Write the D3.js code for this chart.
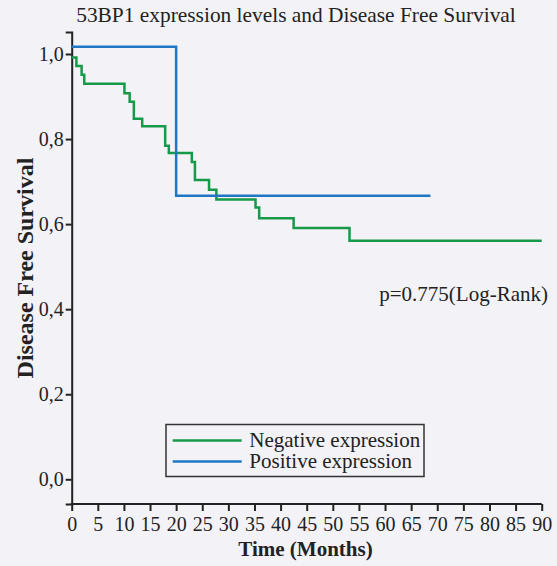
<!DOCTYPE html>
<html>
<head>
<meta charset="utf-8">
<script src="https://cdn.jsdelivr.net/npm/d3@7"></script>
<style>
  body { margin: 0; background: #f3f2f7; }
  svg { display: block; font-family: "Liberation Serif", "Times New Roman", serif; }
  .axis path, .axis line { stroke: #222; stroke-width: 2; }
  .axis text { font-size: 20px; fill: #222; font-family: "Liberation Serif", serif; }
</style>
</head>
<body>
<div id="chart"></div>
<script>
// Kaplan-Meier steps
var negTimes = [0, 0.9, 1.9, 2.4, 10.1, 11.1, 11.9, 13.5, 17.9, 18.6, 23.0, 23.6, 26.3, 27.7, 35.2, 35.9, 42.5, 53.2, 90];
var negSurv = [0.992, 0.972, 0.951, 0.930, 0.908, 0.888, 0.848, 0.830, 0.784, 0.767, 0.746, 0.704, 0.681, 0.658, 0.639, 0.614, 0.591, 0.561, 0.561];

var posTimes = [0, 20, 68.7];
var posSurv = [1.017, 0.667, 0.667];

var xTicks = d3.range(0, 91, 5);
var yTicks = [0, 0.2, 0.4, 0.6, 0.8, 1.0];
var seriesNames = ["Negative expression", "Positive expression"];
var colors = ["#17994a", "#1f77c4"];

var svgWidth = 557;
var svgHeight = 566;

var svg = d3.select("#chart")
    .append("svg")
    .attr("width", svgWidth)
    .attr("height", svgHeight);

var xScale = d3.scaleLinear()
    .domain([0, 90])
    .range([71.7, 541.7]);

// 1,0 sits at y=54 and 0,0 at y=479.3; the axis line runs a bit past both
var yScale = d3.scaleLinear()
    .domain([0, 1])
    .range([479.3, 54]);

var yAxisScale = yScale.copy().domain([yScale.invert(504), yScale.invert(32)]).range([504, 32]);

var bottomAxis = d3.axisBottom(xScale)
    .tickValues(xTicks)
    .tickSizeOuter(0)
    .tickSize(7)
    .tickPadding(6)
    .tickFormat(d3.format("d"));

var leftAxis = d3.axisLeft(yAxisScale)
    .tickValues(yTicks)
    .tickSizeOuter(0)
    .tickSize(6)
    .tickPadding(2)
    .tickFormat(d => d3.format(".1f")(d).replace(".", ","));

svg.append("g")
    .attr("class", "axis")
    .attr("transform", "translate(0, 504)")
    .call(bottomAxis)
    .call(g => g.select(".domain").attr("d", "M70.7,0H541.7"));

svg.append("g")
    .attr("class", "axis")
    .attr("transform", "translate(71.7, 0)")
    .call(leftAxis);

// survival curves
var line = d3.line()
    .x(d => xScale(d[0]))
    .y(d => yScale(d[1]))
    .curve(d3.curveStepAfter);

var negData = negTimes.map((t, i) => [t, negSurv[i]]);
var posData = posTimes.map((t, i) => [t, posSurv[i]]);

[negData, posData].forEach(function (data, i) {
    svg.append("path")
        .datum(data)
        .attr("fill", "none")
        .attr("stroke", colors[i])
        .attr("stroke-width", 2.5)
        .attr("d", line);
});

// title and axis labels
svg.append("text")
    .attr("x", 296)
    .attr("y", 22)
    .attr("text-anchor", "middle")
    .style("font-size", "21.4px")
    .attr("fill", "#222")
    .text("53BP1 expression levels and Disease Free Survival");

svg.append("text")
    .attr("x", 305.5)
    .attr("y", 556)
    .attr("text-anchor", "middle")
    .style("font-size", "21px")
    .style("font-weight", "bold")
    .attr("fill", "#222")
    .text("Time (Months)");

svg.append("text")
    .attr("transform", "translate(33, 268) rotate(-90)")
    .attr("text-anchor", "middle")
    .style("font-size", "24px")
    .style("font-weight", "bold")
    .attr("fill", "#222")
    .text("Disease Free Survival");

svg.append("text")
    .attr("x", 548)
    .attr("y", 301)
    .attr("text-anchor", "end")
    .style("font-size", "21px")
    .attr("fill", "#222")
    .text("p=0.775(Log-Rank)");

// legend
var legend = svg.append("g");

legend.append("rect")
    .attr("x", 166)
    .attr("y", 424.5)
    .attr("width", 258)
    .attr("height", 52)
    .attr("fill", "none")
    .attr("stroke", "#333")
    .attr("stroke-width", 1.5);

seriesNames.forEach(function (name, i) {
    var y = 440.5 + i * 21;
    legend.append("line")
        .attr("x1", 172.7)
        .attr("x2", 241.7)
        .attr("y1", y)
        .attr("y2", y)
        .attr("stroke", colors[i])
        .attr("stroke-width", 2.5);
    legend.append("text")
        .attr("x", 249.3)
        .attr("y", y + 6.5)
        .style("font-size", "21px")
        .attr("fill", "#222")
        .text(name);
});
</script>
</body>
</html>
